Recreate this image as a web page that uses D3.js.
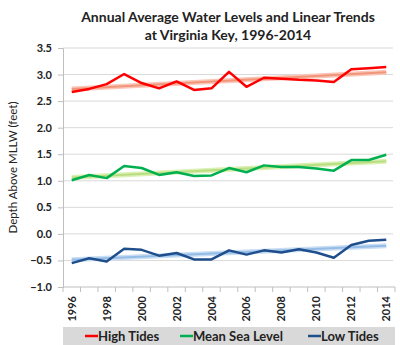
<!DOCTYPE html>
<html>
<head>
<meta charset="utf-8">
<script src="https://cdnjs.cloudflare.com/ajax/libs/d3/7.8.5/d3.min.js"></script>
<style>
  body { margin: 0; background: #fff; }
  text { font-family: Lato, "Open Sans", sans-serif; }
</style>
</head>
<body>
<svg id="chart" width="400" height="345"></svg>
<script>
// data
const years = [1996, 1997, 1998, 1999, 2000, 2001, 2002, 2003, 2004, 2005,
               2006, 2007, 2008, 2009, 2010, 2011, 2012, 2013, 2014]
const highTides = [2.67, 2.73, 2.82, 3.01, 2.84, 2.74, 2.87, 2.71, 2.74, 3.05,
                   2.77, 2.94, 2.92, 2.90, 2.89, 2.86, 3.10, 3.12, 3.14]
const meanSeaLevel = [1.01, 1.11, 1.05, 1.28, 1.24, 1.11, 1.16, 1.09, 1.10, 1.24,
                      1.16, 1.29, 1.26, 1.26, 1.23, 1.19, 1.39, 1.39, 1.49]
const lowTides = [-0.55, -0.46, -0.52, -0.28, -0.30, -0.41, -0.36, -0.48, -0.48, -0.31,
                  -0.39, -0.31, -0.35, -0.29, -0.35, -0.45, -0.21, -0.13, -0.11]
const yTicks = [-1.0, -0.5, 0.0, 0.5, 1.0, 1.5, 2.0, 2.5, 3.0, 3.5]
const seriesNames = ['High Tides', 'Mean Sea Level', 'Low Tides']

const svg = d3.select('#chart')
const mLeft = 63, mRight = 395, mTop = 48, mBottom = 287

let x = d3.scaleBand().domain(years).range([mLeft, mRight]).padding(0)
let y = d3.scaleLinear().domain([-1, 3.5]).range([mBottom, mTop])
let cx = d => x(d) + x.bandwidth() / 2

// title
svg.append('text')
    .attr('x', 228).attr('y', 22)
    .attr('text-anchor', 'middle')
    .style('font-size', '14px').style('font-weight', 'bold').style('fill', '#222')
    .text('Annual Average Water Levels and Linear Trends')
svg.append('text')
    .attr('x', 228).attr('y', 40)
    .attr('text-anchor', 'middle')
    .style('font-size', '14px').style('font-weight', 'bold').style('fill', '#222')
    .text('at Virginia Key, 1996-2014')

// gridlines
svg.append('g').selectAll('line')
    .data(yTicks.filter(d => d > -1))
    .enter().append('line')
    .attr('x1', mLeft).attr('x2', mRight - 2)
    .attr('y1', d => y(d)).attr('y2', d => y(d))
    .style('stroke', '#d9d9d9').style('stroke-width', 1)

// y axis
let yAxis = svg.append('g')
    .attr('transform', `translate(${mLeft},0)`)
    .call(d3.axisLeft(y).tickValues(yTicks).tickFormat(d3.format('.1f')).tickSize(5).tickPadding(6))
yAxis.select('.domain').style('stroke', '#bfbfbf')
yAxis.selectAll('.tick line').style('stroke', '#bfbfbf')
yAxis.selectAll('text').style('font-size', '11px').style('font-weight', 'bold').style('fill', '#222')
    .style('font-family', 'Lato, sans-serif')

// x axis: ticks between categories
let xAxisG = svg.append('g').attr('transform', `translate(0,${mBottom})`)
xAxisG.append('line').attr('x1', mLeft).attr('x2', mRight)
    .style('stroke', '#bfbfbf')
xAxisG.selectAll('.xt')
    .data(years.concat([null]))
    .enter().append('line')
    .attr('x1', (d, i) => mLeft + i * x.bandwidth())
    .attr('x2', (d, i) => mLeft + i * x.bandwidth())
    .attr('y1', 0).attr('y2', 5)
    .style('stroke', '#bfbfbf')
xAxisG.selectAll('.xl')
    .data(years.filter((d, i) => i % 2 == 0))
    .enter().append('text')
    .attr('transform', d => `translate(${cx(d) + 4},${9}) rotate(-90)`)
    .attr('text-anchor', 'end')
    .style('font-size', '11px').style('font-weight', 'bold').style('fill', '#222')
    .text(d => d)

// y label
svg.append('text')
    .attr('transform', `translate(17,${(mTop + mBottom) / 2}) rotate(-90)`)
    .attr('text-anchor', 'middle')
    .style('font-size', '11.5px').style('fill', '#222')
    .text('Depth Above MLLW (feet)')

// linear fit like excel trendline
function linearFit(vals) {
    let n = vals.length
    let xs = d3.range(n)
    let mx = d3.mean(xs), my = d3.mean(vals)
    let num = d3.sum(xs, (d, i) => (d - mx) * (vals[i] - my))
    let den = d3.sum(xs, d => (d - mx) * (d - mx))
    let slope = num / den
    return [my - slope * mx, my + slope * (n - 1 - mx)]
}

const series = [
    { vals: highTides, color: '#ff0000', trendOuter: '#fac6b8', trendInner: '#ef8a6a' },
    { vals: meanSeaLevel, color: '#00b050', trendOuter: '#dbf0b4', trendInner: '#b0da74' },
    { vals: lowTides, color: '#1f4e8c', trendOuter: '#c9ddf3', trendInner: '#86b4e2' }
]

let line = d3.line().x((d, i) => cx(years[i])).y(d => y(d))

series.forEach(function (s) {
    let fit = linearFit(s.vals)
    let ends = [[years[0], fit[0]], [years[years.length - 1], fit[1]]]
    let tl = d3.line().x(d => cx(d[0])).y(d => y(d[1]))
    svg.append('path').attr('d', tl(ends))
        .style('fill', 'none').style('stroke', s.trendOuter).style('stroke-width', 5)
    svg.append('path').attr('d', tl(ends))
        .style('fill', 'none').style('stroke', s.trendInner).style('stroke-width', 2)
        .style('opacity', 0.8)
    svg.append('path').attr('d', line(s.vals))
        .style('fill', 'none').style('stroke', s.color).style('stroke-width', 2.5)
        .style('stroke-linejoin', 'round')
})

// legend
svg.append('rect').attr('x', mLeft).attr('y', 327).attr('width', mRight - mLeft).attr('height', 20)
    .style('fill', '#d9d9d9')
const legendX = [85, 180, 308]
seriesNames.forEach(function (name, i) {
    svg.append('line')
        .attr('x1', legendX[i]).attr('x2', legendX[i] + 13)
        .attr('y1', 336).attr('y2', 336)
        .style('stroke', series[i].color).style('stroke-width', 2.5)
    svg.append('text')
        .attr('x', legendX[i] + 13).attr('y', 341)
        .style('font-size', '13px').style('font-weight', 'bold').style('fill', '#222')
        .text(name)
})
</script>
</body>
</html>
